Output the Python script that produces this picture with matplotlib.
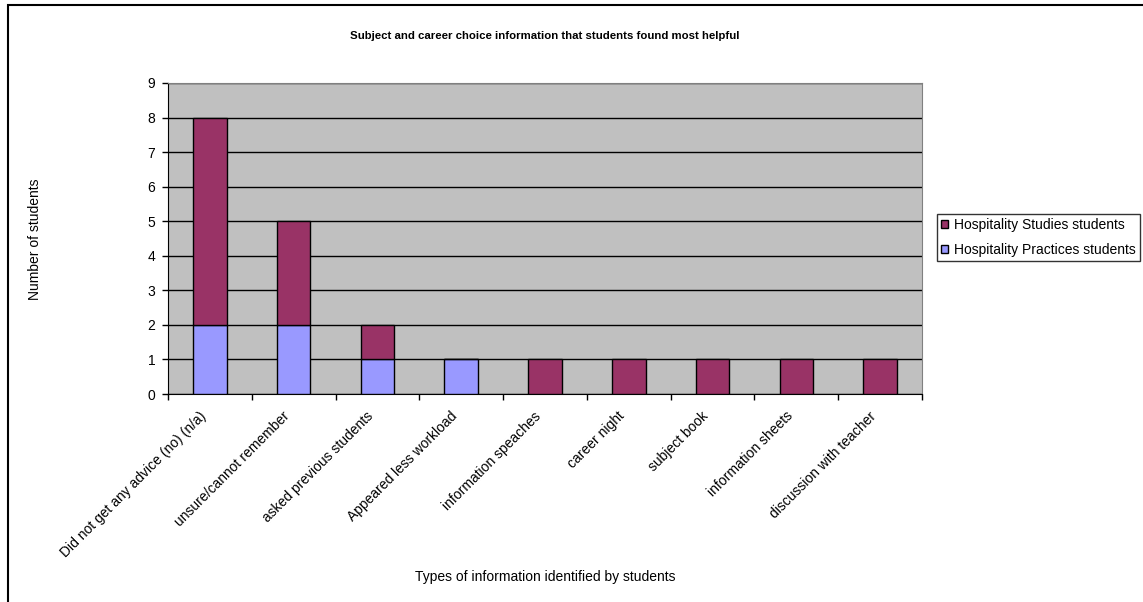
import numpy as np
import matplotlib.pyplot as plt
from matplotlib.patches import Rectangle
from matplotlib.transforms import ScaledTranslation

plt.rcParams['font.family'] = ['Liberation Sans', 'DejaVu Sans']

# Counts of students per type of information
categories = ['Did not get any advice (no) (n/a)', 'unsure/cannot remember',
              'asked previous students', 'Appeared less workload',
              'information speaches', 'career night', 'subject book',
              'information sheets', 'discussion with teacher']
practices = [2, 2, 1, 1, 0, 0, 0, 0, 0]
studies = [6, 3, 1, 0, 1, 1, 1, 1, 1]

W, H = 1143, 602
fig = plt.figure(figsize=(W / 100, H / 100), dpi=100)

# outer chart frame (runs off the right and bottom edges)
fig.patches.append(Rectangle((8 / W, -0.05), 1.2, (H - 5) / H + 0.05,
                             transform=fig.transFigure, fill=False,
                             edgecolor='black', linewidth=1.5))

ax = fig.add_axes([168 / W, (H - 394) / H, (922 - 168) / W, (394 - 83) / H])
ax.set_facecolor('#C0C0C0')

x = np.arange(len(categories))
ax.bar(x, practices, width=0.4, color='#9999FF', edgecolor='black',
       linewidth=1, label='Hospitality Practices students', zorder=3)
ax.bar(x, studies, width=0.4, bottom=practices, color='#993366',
       edgecolor='black', linewidth=1, label='Hospitality Studies students',
       zorder=3)

ax.set_xlim(-0.5, len(categories) - 0.5)
ax.set_ylim(0, 9)
ax.set_yticks(range(10))
ax.yaxis.grid(True, color='black', linewidth=1, zorder=1)
ax.set_axisbelow(True)

# ticks sit between categories, labels at the category centres
ax.set_xticks(list(x - 0.5) + [len(categories) - 0.5])
ax.set_xticklabels([])
ax.set_xticks(x, minor=True)
ax.set_xticklabels(categories, minor=True, rotation=45, ha='right',
                   va='center', rotation_mode='anchor', fontsize=10)
ax.tick_params(axis='x', which='minor', length=0, pad=10)
ax.tick_params(axis='x', which='major', length=4, width=1, direction='out')
ax.tick_params(axis='y', length=4, width=1, direction='out', labelsize=10,
               pad=5)

# nudge the slanted labels down along their own direction
offset = ScaledTranslation(-6 / 100, -6 / 100, fig.dpi_scale_trans)
for lbl in ax.xaxis.get_minorticklabels():
    lbl.set_transform(lbl.get_transform() + offset)

for side in ['top', 'right']:
    ax.spines[side].set_color('#808080')
for side in ['left', 'bottom']:
    ax.spines[side].set_color('black')

fig.text(545 / W, 1 - 36 / H,
         'Subject and career choice information that students found most helpful',
         ha='center', va='center', fontsize=8.2, fontweight='bold')
fig.text(545 / W, 1 - 577 / H, 'Types of information identified by students',
         ha='center', va='center', fontsize=10)
fig.text(35 / W, 1 - 239 / H, 'Number of students', rotation=90,
         ha='center', va='center', fontsize=10)

handles, labels = ax.get_legend_handles_labels()
leg = fig.legend(handles[::-1], labels[::-1], loc='upper left',
                 bbox_to_anchor=(937 / W, 1 - 214 / H), fontsize=10,
                 frameon=True, fancybox=False, edgecolor='black',
                 handlelength=0.5, handleheight=0.5, handletextpad=0.43,
                 borderpad=0.3, labelspacing=0.8, borderaxespad=0)
leg.get_frame().set_linewidth(1)

plt.savefig('out.png', dpi=100)
